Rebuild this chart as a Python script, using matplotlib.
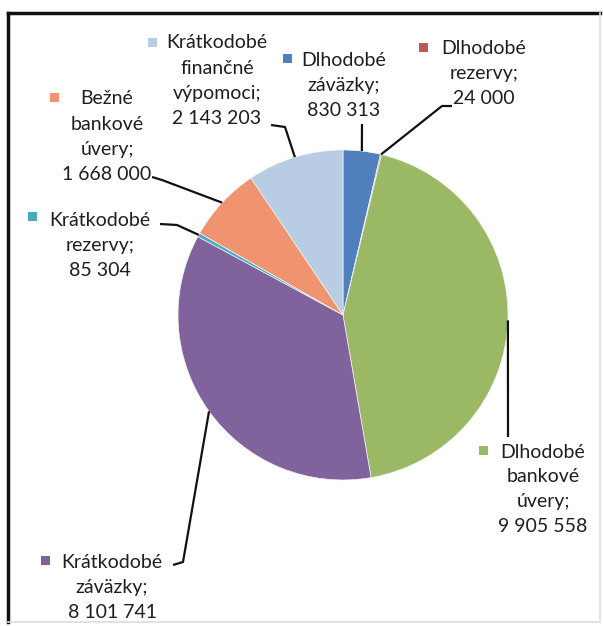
import matplotlib
matplotlib.use("Agg")
import matplotlib.pyplot as plt
import numpy as np
from matplotlib.patches import Rectangle
from matplotlib.lines import Line2D

W, H = 603, 626

# ---- data ----
categories = ["Dlhodobé záväzky", "Dlhodobé rezervy", "Dlhodobé bankové úvery",
              "Krátkodobé záväzky", "Krátkodobé rezervy", "Bežné bankové úvery",
              "Krátkodobé finančné výpomoci"]
values = [830313, 24000, 9905558, 8101741, 85304, 1668000, 2143203]
label_words = [["Dlhodobé", "záväzky;"], ["Dlhodobé", "rezervy;"],
               ["Dlhodobé", "bankové", "úvery;"], ["Krátkodobé", "záväzky;"],
               ["Krátkodobé", "rezervy;"], ["Bežné", "bankové", "úvery;"],
               ["Krátkodobé", "finančné", "výpomoci;"]]
colors = ["#4f7fbc", "#b8595a", "#9bb865", "#80639c", "#4aa8c2", "#ef9370", "#b8cce4"]

# ---- layout (image pixel coordinates) ----
CX, CY, R = 343, 315, 165
label_pos = [(344, 61), (484, 48), (543, 452), (112, 562), (100, 220), (107, 99), (217, 43)]
marker_pos = [(287, 58), (423, 47), (483, 450), (45, 560), (32, 216), (54, 97), (152, 42)]
leader_pts = [[(362, 124)], [(452, 106), (442, 106)], [(508, 437)],
              [(173, 565), (183, 562)], [(160, 224), (177, 225)],
              [(152, 177), (162, 180)], [(271, 125), (285, 127)]]
LINE_H = 25

plt.rcParams['font.family'] = ['Lato', 'DejaVu Sans']

fig = plt.figure(figsize=(W / 100, H / 100), dpi=100)
ax = fig.add_axes([0, 0, 1, 1])

def fy(y):
    return H - y

ax.pie(values, colors=colors, startangle=90, counterclock=False,
       center=(CX, fy(CY)), radius=R,
       wedgeprops=dict(linewidth=0.5, edgecolor="#f4f4f4"))
ax.set_xlim(0, W)
ax.set_ylim(0, H)
ax.set_aspect('equal')
ax.axis('off')

total = float(sum(values))
cum = 0.0
for i, v in enumerate(values):
    mid = cum + v / 2.0
    cum += v
    ang = np.deg2rad(90 - 360.0 * mid / total)
    ex = CX + R * np.cos(ang)
    ey = CY - R * np.sin(ang)
    pts = leader_pts[i] + [(ex, ey)]
    ax.plot([p[0] for p in pts], [fy(p[1]) for p in pts], color="#111111", lw=1.6,
            solid_capstyle='butt', zorder=3)
    num = f"{v:,}".replace(",", " ")
    lines = label_words[i] + [num]
    lx, ly = label_pos[i]
    for k, t in enumerate(lines):
        ax.text(lx, fy(ly + k * LINE_H), t, ha='center', va='center',
                fontsize=14, color="#1e1e1e", zorder=4)
    mx, my = marker_pos[i]
    s = 9
    ax.add_patch(Rectangle((mx - s / 2, fy(my) - s / 2), s, s, facecolor=colors[i],
                           edgecolor='none', zorder=4))

# frame
fig.add_artist(Line2D([8 / W, 8 / W], [1 - 13 / H, 1 - 622 / H], color="#111111", lw=2.5))
fig.add_artist(Line2D([8 / W, 600 / W], [1 - 13 / H, 1 - 13 / H], color="#111111", lw=2.5))
fig.add_artist(Line2D([600 / W, 600 / W], [1 - 13 / H, 1 - 622 / H], color="#dddddd", lw=1.2))
fig.add_artist(Line2D([8 / W, 600 / W], [1 - 622 / H, 1 - 622 / H], color="#dddddd", lw=1.2))

fig.savefig("out.png", dpi=100)
